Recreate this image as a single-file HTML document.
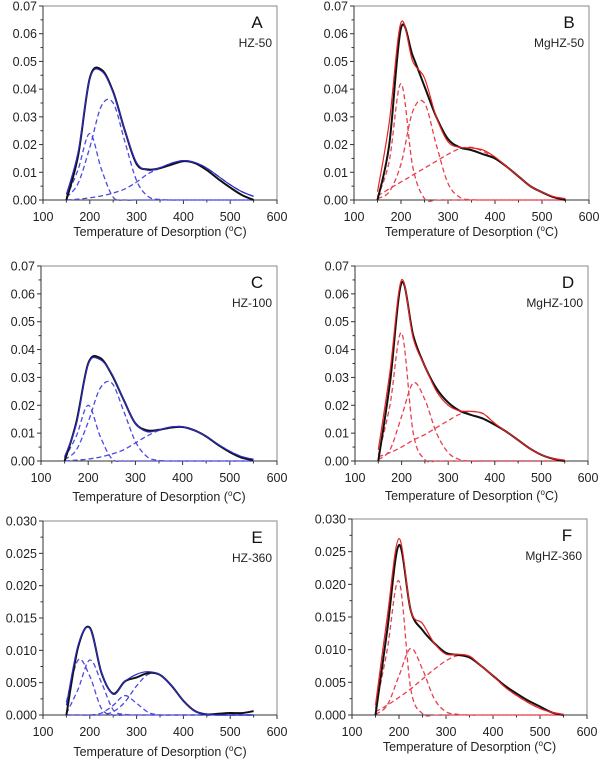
<!DOCTYPE html>
<html><head><meta charset="utf-8"><style>
html,body{margin:0;padding:0;background:#fff;}
svg{display:block;font-family:"Liberation Sans",Arial,sans-serif;}
</style></head><body>
<svg id="chart" width="600" height="761" viewBox="0 0 600 761" xmlns="http://www.w3.org/2000/svg"></svg>
<script>
// Temperature grid (°C)
const temps = [150,175,200,225,250,275,300,325,350,375,400,425,450,475,500,525,550];
const xTicks = [100,200,300,400,500,600];
const yTicks07 = [0,0.01,0.02,0.03,0.04,0.05,0.06,0.07];
const yTicks03 = [0,0.005,0.010,0.015,0.020,0.025,0.030];

// Panel A HZ-50
const aBlack = [0,0.016,0.044,0.047,0.039,0.025,0.013,0.011,0.0115,0.0128,0.0140,0.0133,0.0108,0.0075,0.0045,0.0018,0.0];
const aFit = [0.002,0.0173,0.0438,0.0465,0.0387,0.025,0.0135,0.0107,0.0117,0.0133,0.0142,0.0135,0.0115,0.0085,0.0055,0.003,0.0013];
const aC1 = [0.001,0.011,0.024,0.011,0.001,0,0,0,0,0,0,0,0,0,0,0,0];
const aC2 = [0.001,0.006,0.019,0.034,0.035,0.021,0.007,0.0012,0.0002,0,0,0,0,0,0,0,0];
const aC3 = [0,0.0003,0.0008,0.0015,0.0025,0.004,0.0065,0.0095,0.0115,0.0133,0.0142,0.0135,0.0115,0.0085,0.0055,0.003,0.0013];
// Panel B MgHZ-50
const bBlack = [0,0.02,0.062,0.052,0.041,0.030,0.022,0.019,0.018,0.0165,0.015,0.012,0.0085,0.005,0.0028,0.001,0];
const bFit = [0.003,0.028,0.064,0.050,0.044,0.030,0.021,0.019,0.0188,0.018,0.0155,0.012,0.0085,0.005,0.0028,0.0012,0.0005];
const bC1 = [0.001,0.014,0.042,0.012,0.0005,0,0,0,0,0,0,0,0,0,0,0,0];
const bC2 = [0.0005,0.003,0.013,0.032,0.035,0.020,0.006,0.001,0.0001,0,0,0,0,0,0,0,0];
const bC3 = [0.0015,0.004,0.0065,0.009,0.0115,0.014,0.0165,0.0185,0.019,0.0175,0.015,0.012,0.0085,0.005,0.0028,0.0012,0.0005];
// Panel C HZ-100
const cBlack = [0,0.014,0.035,0.037,0.031,0.022,0.0135,0.011,0.0112,0.012,0.0122,0.0110,0.0088,0.0058,0.0032,0.0012,0.0003];
const cFit = [0.0015,0.0133,0.0347,0.0364,0.0313,0.022,0.0135,0.0105,0.0112,0.0122,0.0123,0.011,0.0088,0.006,0.0035,0.0016,0.0006];
const cC1 = [0.001,0.009,0.020,0.009,0.0008,0,0,0,0,0,0,0,0,0,0,0,0];
const cC2 = [0.0005,0.004,0.014,0.026,0.028,0.018,0.007,0.0015,0.0002,0,0,0,0,0,0,0,0];
const cC3 = [0,0.0003,0.0007,0.0014,0.0025,0.004,0.0065,0.009,0.011,0.0122,0.0123,0.011,0.0088,0.006,0.0035,0.0016,0.0006];
// Panel D MgHZ-100
const dBlack = [0,0.028,0.064,0.045,0.034,0.026,0.021,0.018,0.0165,0.0152,0.013,0.0105,0.0075,0.0045,0.0022,0.0008,0];
const dFit = [0.004,0.032,0.065,0.044,0.034,0.025,0.020,0.018,0.0178,0.017,0.0135,0.0105,0.0075,0.0045,0.0022,0.0009,0.0003];
const dC1 = [0.002,0.020,0.046,0.010,0.0005,0,0,0,0,0,0,0,0,0,0,0,0];
const dC2 = [0.0005,0.004,0.016,0.028,0.022,0.01,0.003,0.0005,0,0,0,0,0,0,0,0,0];
const dC3 = [0.0015,0.003,0.005,0.0075,0.0095,0.012,0.0145,0.0168,0.0178,0.017,0.0135,0.0105,0.0075,0.0045,0.0022,0.0009,0.0003];
// Panel E HZ-360
const eBlack = [0,0.0105,0.0135,0.0065,0.0033,0.0052,0.0058,0.0065,0.0062,0.0045,0.0022,0.0006,0.0001,0.0002,0.0003,0.0003,0.0006];
const eFit = [0.0015,0.0108,0.0134,0.0066,0.0032,0.0052,0.0063,0.0067,0.0062,0.0045,0.0022,0.0006,0.0001,0,0,0,0];
const eC1 = [0.002,0.0085,0.006,0.001,0,0,0,0,0,0,0,0,0,0,0,0,0];
const eC2 = [0.0002,0.004,0.0085,0.005,0.0008,0.0001,0,0,0,0,0,0,0,0,0,0,0];
const eC3 = [0,0,0,0.0003,0.0015,0.003,0.0018,0.0004,0,0,0,0,0,0,0,0,0];
const eC4 = [0,0,0,0,0.0005,0.002,0.0045,0.0063,0.0062,0.0045,0.0022,0.0006,0.0001,0,0,0,0];
// Panel F MgHZ-360
const fBlack = [0,0.013,0.026,0.016,0.013,0.011,0.0095,0.0092,0.0088,0.0075,0.006,0.0045,0.0033,0.0022,0.0013,0.0004,0];
const fFit = [0.0015,0.015,0.027,0.016,0.014,0.011,0.0093,0.0093,0.0090,0.0075,0.006,0.0043,0.003,0.0019,0.001,0.0004,0.0001];
const fC1 = [0.001,0.010,0.0205,0.004,0.0002,0,0,0,0,0,0,0,0,0,0,0,0];
const fC2 = [0.0001,0.0015,0.006,0.0102,0.007,0.0025,0.0005,0.0001,0,0,0,0,0,0,0,0,0];
const fC3 = [0.0005,0.0015,0.0027,0.004,0.0055,0.007,0.0083,0.0091,0.009,0.0075,0.006,0.0043,0.003,0.0019,0.001,0.0004,0.0001];

const svg = document.getElementById('chart');
const NS = 'http://www.w3.org/2000/svg';
function mk(tag, attrs, parent){const e=document.createElementNS(NS,tag);for(const k in attrs)e.setAttribute(k,attrs[k]);parent.appendChild(e);return e;}

const panels = [
 {id:'a',L:43,R:277,T:6,B:200,lab:'A',name:'HZ-50',ymax:0.07,yt:yTicks07,dec:2,xl:232,black:aBlack,fit:aFit,comps:[aC1,aC2,aC3],col:'#2a2ac8',dcol:'#4a4ae0'},
 {id:'b',L:354,R:589,T:6,B:200,lab:'B',name:'MgHZ-50',ymax:0.07,yt:yTicks07,dec:2,xl:232,black:bBlack,fit:bFit,comps:[bC1,bC2,bC3],col:'#e82020',dcol:'#e84050'},
 {id:'c',L:41,R:277,T:266,B:461,lab:'C',name:'HZ-100',ymax:0.07,yt:yTicks07,dec:2,xl:497,black:cBlack,fit:cFit,comps:[cC1,cC2,cC3],col:'#2a2ac8',dcol:'#4a4ae0'},
 {id:'d',L:355,R:588,T:266,B:461,lab:'D',name:'MgHZ-100',ymax:0.07,yt:yTicks07,dec:2,xl:496,black:dBlack,fit:dFit,comps:[dC1,dC2,dC3],col:'#e82020',dcol:'#e84050'},
 {id:'e',L:43,R:277,T:521,B:715,lab:'E',name:'HZ-360',ymax:0.03,yt:yTicks03,dec:3,xl:752,black:eBlack,fit:eFit,comps:[eC1,eC2,eC3,eC4],col:'#2a2ac8',dcol:'#4a4ae0'},
 {id:'f',L:352,R:587,T:519,B:715,lab:'F',name:'MgHZ-360',ymax:0.03,yt:yTicks03,dec:3,xl:747,black:fBlack,fit:fFit,comps:[fC1,fC2,fC3],col:'#e82020',dcol:'#e84050'}
];

function pathFor(vals, xs, ys){
  const pts = temps.map((t,i)=>[xs(t), ys(vals[i])]);
  let d = 'M'+pts[0][0].toFixed(2)+','+pts[0][1].toFixed(2);
  for(let i=0;i<pts.length-1;i++){
    const p0=pts[Math.max(0,i-1)],p1=pts[i],p2=pts[i+1],p3=pts[Math.min(pts.length-1,i+2)];
    const c1x=p1[0]+(p2[0]-p0[0])/6, c1y=p1[1]+(p2[1]-p0[1])/6;
    const c2x=p2[0]-(p3[0]-p1[0])/6, c2y=p2[1]-(p3[1]-p1[1])/6;
    d+=' C'+c1x.toFixed(2)+','+c1y.toFixed(2)+' '+c2x.toFixed(2)+','+c2y.toFixed(2)+' '+p2[0].toFixed(2)+','+p2[1].toFixed(2);
  }
  return d;
}

panels.forEach(p=>{
  const g = mk('g',{},svg);
  
  
  const xs = t => p.L + (t-100)/500*(p.R-p.L);
  const ys = v => p.B - v/p.ymax*(p.B-p.T);
  const frame = mk('rect',{x:p.L,y:p.T,width:p.R-p.L,height:p.B-p.T,fill:'none',stroke:'#8a8a8a','stroke-width':1},g);
  
  
  mk('line',{x1:p.L,y1:p.T,x2:p.L,y2:p.B,stroke:'#333','stroke-width':1},g);
  mk('line',{x1:p.L,y1:p.B,x2:p.R,y2:p.B,stroke:'#333','stroke-width':1},g);
  // x ticks
  xTicks.forEach((t,i)=>{
    mk('line',{x1:xs(t),y1:p.B,x2:xs(t),y2:p.B+4,stroke:'#333'},g);
    if(i<xTicks.length-1) mk('line',{x1:xs(t+50),y1:p.B,x2:xs(t+50),y2:p.B+2.5,stroke:'#333'},g);
    const tx = mk('text',{x:xs(t),y:p.B+21,'text-anchor':'middle','font-size':12.5,fill:'#222'},g);
    tx.textContent = t;
    
    
  });
  // y ticks
  p.yt.forEach((v,i)=>{
    mk('line',{x1:p.L-4,y1:ys(v),x2:p.L,y2:ys(v),stroke:'#333'},g);
    if(i<p.yt.length-1){const h=(v+p.yt[i+1])/2; mk('line',{x1:p.L-2.5,y1:ys(h),x2:p.L,y2:ys(h),stroke:'#333'},g);}
    const ty = mk('text',{x:p.L-6,y:ys(v)+4.5,'text-anchor':'end','font-size':12.5,fill:'#222'},g);
    ty.textContent = v.toFixed(p.dec);
    
    
  });
  // x title
  const xt = mk('text',{x:(p.L+p.R)/2,y:p.xl+4,'text-anchor':'middle','font-size':12.5,fill:'#222'},g);
  xt.innerHTML = 'Temperature of Desorption (<tspan dy="-5" font-size="8">o</tspan><tspan dy="5">C)</tspan>';
  
  
  // labels
  const lt = mk('text',{x:p.R-20,y:p.T+22,'text-anchor':'middle','font-size':17,fill:'#111'},g);
  lt.textContent = p.lab;
  
  
  const nt = mk('text',{x:p.R-5,y:p.T+41,'text-anchor':'end','font-size':12,fill:'#222'},g);
  nt.textContent = p.name;
  
  
  // components
  p.comps.forEach((c,i)=>{
    const el = mk('path',{d:pathFor(c,xs,ys),fill:'none',stroke:p.dcol,'stroke-width':1.3,'stroke-dasharray':'5,3'},g);
    
    
  });
  const bl = mk('path',{d:pathFor(p.black,xs,ys),fill:'none',stroke:'#111','stroke-width':2},g);
  
  
  const ft = mk('path',{d:pathFor(p.fit,xs,ys),fill:'none',stroke:p.col,'stroke-width':1.2},g);
  
  
});
</script>
</body></html>
